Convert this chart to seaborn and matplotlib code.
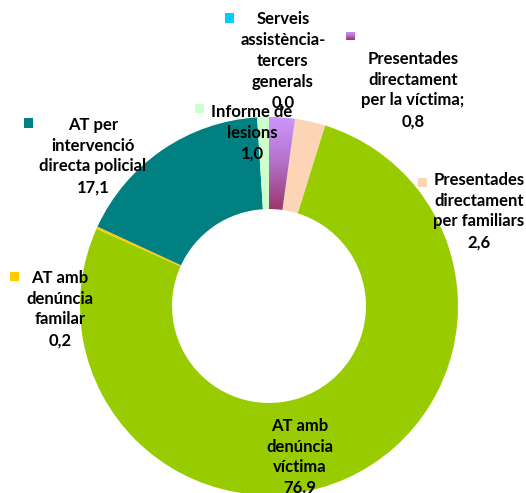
import numpy as np
import matplotlib
matplotlib.use("Agg")
import matplotlib.pyplot as plt
import seaborn as sns
from matplotlib.colors import LinearSegmentedColormap
from matplotlib.patches import Rectangle

# ---- data ----
categories = [
    "Presentades directament per la víctima",
    "Presentades directament per familiars",
    "AT amb denúncia víctima",
    "AT amb denúncia familar",
    "AT per intervenció directa policial",
    "Informe de lesions",
    "Serveis assistència-tercers generals",
]
values = [2.2, 2.6, 76.9, 0.2, 17.1, 1.0, 0.0]
label_texts = [
    "Presentades\ndirectament\nper la víctima;\n0,8",
    "Presentades\ndirectament\nper familiars\n2,6",
    "AT amb\ndenúncia\nvíctima\n76.9",
    "AT amb\ndenúncia\nfamilar\n0,2",
    "AT per\nintervenció\ndirecta policial\n17,1",
    "Informe de\nlesions\n1,0",
    "Serveis\nassistència-\ntercers\ngenerals\n0,0",
]
colors = ["#CC99FF", "#FBD5B5", "#99CC00", "#FFCC00", "#008080", "#CCFFCC", "#00CCFF"]
has_marker = [True, True, False, True, True, True, True]

sns.set_theme(style="white")
plt.rcParams["font.family"] = ["Lato", "DejaVu Sans"]

W, H = 526, 493
CX, CY, R = 269, 306, 189

fig = plt.figure(figsize=(W / 100, H / 100), dpi=100)
ax = fig.add_axes([0, 0, 1, 1])

def P(x, y):
    return ((x - CX) / R, (CY - y) / R)

wedges, _ = ax.pie(values, colors=sns.color_palette(colors), startangle=90,
                   counterclock=False, radius=1,
                   wedgeprops=dict(width=0.487, linewidth=0))

# gradient fill for first wedge
grad_cmap = LinearSegmentedColormap.from_list("pg", ["#993366", "#B470C8", "#CC99FF"])
w0 = wedges[0]
ext = w0.get_path().get_extents()
w0.set_facecolor("none")
grad = np.linspace(0, 1, 256).reshape(-1, 1)
im = ax.imshow(grad, cmap=grad_cmap, origin="lower", aspect="auto",
               extent=[ext.x0 - 0.01, ext.x1 + 0.01, ext.y0 - 0.01, ext.y1 + 0.01],
               zorder=w0.get_zorder())
im.set_clip_path(w0)

ax.axis("off")

# label layout (pixel positions)
text_pos = [(413, 90), (479, 211), (300, 457), (60, 309), (93, 156), (252, 132.5), (283, 61)]
marker_pos = [(350, 36), (422, 182), None, (14, 276), (28, 123), (199, 109), (229, 18)]

ms = 9 / R
for i, txt in enumerate(label_texts):
    x, y = P(*text_pos[i])
    ax.text(x, y, txt, ha="center", va="center", fontsize=12, fontweight="bold",
            linespacing=1.38, color="black", zorder=5)
    if has_marker[i]:
        mx, my = P(*marker_pos[i])
        if i == 0:
            rect = Rectangle((mx - ms / 2, my - ms / 2), ms, ms, facecolor="none",
                             edgecolor="none", zorder=5)
            ax.add_patch(rect)
            mi = ax.imshow(grad, cmap=grad_cmap, origin="lower", aspect="auto",
                           extent=[mx - ms / 2, mx + ms / 2, my - ms / 2, my + ms / 2],
                           zorder=5)
            mi.set_clip_path(rect)
        else:
            ax.add_patch(Rectangle((mx - ms / 2, my - ms / 2), ms, ms,
                                   facecolor=colors[i], edgecolor="none", zorder=5))

ax.set_xlim(-CX / R, (W - CX) / R)
ax.set_ylim(-(H - CY) / R, CY / R)
ax.set_aspect("auto")

fig.savefig("out.png", dpi=100)
